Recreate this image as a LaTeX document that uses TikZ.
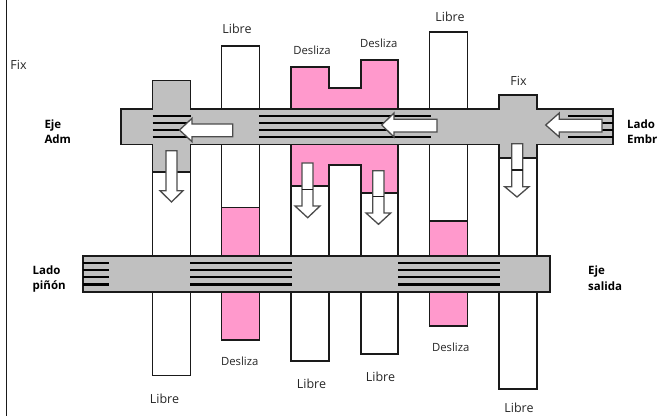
\documentclass[tikz,border=0pt]{standalone}
\usepackage{fontspec}
\setmainfont{Open Sans}
\definecolor{rosa}{HTML}{FF99CC}
\definecolor{gris}{HTML}{C0C0C0}
\definecolor{borde}{HTML}{1A1A1A}
\tikzset{
	pieza/.style={draw=borde, line width=1.3pt},
	estria/.style={draw=black, line width=2.1pt},
	flecha/.style={draw=black!70, line width=1.3pt, fill=white, line join=miter},
	rotulo/.style={font=\fontsize{12.5}{14}\selectfont, inner sep=0pt, text=black!85},
	rotulopeq/.style={font=\fontsize{11.3}{13}\selectfont, inner sep=0pt, text=black!85},
	rotuloeje/.style={font=\fontsize{11.5}{15.5}\selectfont\bfseries, inner sep=0pt, align=left, anchor=west}
}
\begin{document}
\begin{tikzpicture}[x=1pt, y=-1pt]
		\useasboundingbox (0,0) rectangle (659,416);
		% Linea de la izquierda
		\draw[line width=1.3pt, borde] (6.5,0) -- (6.5,416);
		
		% Columnas blancas
		\draw[pieza, fill=white] (152.5,172) rectangle (190.5,375.7);
		\draw[pieza, fill=white] (221.5,46) rectangle (259.5,340);
		\draw[pieza, fill=white] (291,186) rectangle (329,361);
		\draw[pieza, fill=white] (361,193) rectangle (398,354);
		\draw[pieza, fill=white] (429.7,32) rectangle (467.7,326);
		\draw[pieza, fill=white] (499,158) rectangle (537,389);
		
		% Partes rosas
		\draw[pieza, fill=rosa] (221.5,207.5) rectangle (259.5,340);
		\draw[pieza, fill=rosa] (429.7,221) rectangle (467.7,326);
		\draw[pieza, fill=rosa] (291,67) -- (329,67) -- (329,88) -- (361,88) -- (361,60) -- (398,60) -- (398,193) -- (361,193) -- (361,165) -- (329,165) -- (329,186) -- (291,186) -- cycle;
		
		% Eje de arriba con las dos piezas fijas
		\draw[pieza, fill=gris] (121,109) -- (152.5,109) -- (152.5,80.5) -- (190.5,80.5) -- (190.5,109) -- (499,109) -- (499,95) -- (537,95) -- (537,109) -- (613,109) -- (613,144.5) -- (537,144.5) -- (537,158) -- (499,158) -- (499,144.5) -- (190.5,144.5) -- (190.5,172) -- (152.5,172) -- (152.5,144.5) -- (121,144.5) -- cycle;
		
		% Eje de abajo
		\draw[pieza, fill=gris] (83,256) rectangle (550,292);
		
		% Estrias de arriba
		\foreach \y in {115.7,123,130,137.3} {
			\draw[estria] (152.5,\y) -- (191,\y);
			\draw[estria] (259,\y) -- (431,\y);
			\draw[estria] (568,\y) -- (613,\y);
		}
		
		% Estrias de abajo
		\foreach \y in {263.3,270.4,277.3,284.5} {
			\draw[estria] (83,\y) -- (109,\y);
			\draw[estria] (190,\y) -- (292,\y);
			\draw[estria] (398,\y) -- (500,\y);
		}
		
		% Flechas hacia la izquierda
		\draw[flecha] (179.5,130) -- (192,118.3) -- (192,124) -- (232.7,124) -- (232.7,136.7) -- (192,136.7) -- (192,141.7) -- cycle;
		\draw[flecha] (381.7,125) -- (394,113) -- (394,119.3) -- (437,119.3) -- (437,132) -- (394,132) -- (394,137) -- cycle;
		\draw[flecha] (545.7,125) -- (559.3,113) -- (559.3,119.3) -- (602,119.3) -- (602,132) -- (559.3,132) -- (559.3,137) -- cycle;
		
		% Flechas hacia abajo
		\draw[flecha] (166,150.7) -- (177,150.7) -- (177,190.7) -- (183,190.7) -- (171.5,202) -- (160,190.7) -- (166,190.7) -- cycle;
		\draw[flecha] (302,163) -- (313,163) -- (313,206) -- (320,206) -- (307.7,217.7) -- (295,206) -- (302,206) -- cycle;
		\draw[flecha] (372.7,170.7) -- (384,170.7) -- (384,213) -- (390.7,213) -- (378.5,224.3) -- (366,213) -- (372.7,213) -- cycle;
		\draw[flecha] (511.7,143.7) -- (522.7,143.7) -- (522.7,186.7) -- (529,186.7) -- (517,197) -- (504.7,186.7) -- (511.7,186.7) -- cycle;
		
		% Rayitas dentro de las flechas
		\draw[pieza] (302,189.3) -- (313,189.3);
		\draw[pieza] (372.7,196.7) -- (384,196.7);
		\draw[pieza] (511.7,170) -- (522.7,170);
		
		% Rotulos
		\node[rotulo] (fixizq) at (18.5,65) {Fix};
		\node[rotulo] (fixder) at (518.5,80.7) {Fix};
		\node[rotulo] (libreb) at (237,29) {Libre};
		\node[rotulo] (libree) at (450,17) {Libre};
		\node[rotulo] (librea) at (164.5,399) {Libre};
		\node[rotulo] (librec) at (311.5,384) {Libre};
		\node[rotulo] (libred) at (380.5,376.7) {Libre};
		\node[rotulo, anchor=base] (libref) at (519,412.5) {Libre};
		\node[rotulopeq] (deslizac) at (312,50) {Desliza};
		\node[rotulopeq] (deslizad) at (378.7,43) {Desliza};
		\node[rotulopeq] (deslizab) at (239.7,361.7) {Desliza};
		\node[rotulopeq] (deslizae) at (450.7,347.7) {Desliza};
		\node[rotuloeje] (ejeadm) at (44.3,131.5) {Eje\\Adm};
		\node[rotuloeje] (ladoembr) at (627,131.5) {Lado\\Embr};
		\node[rotuloeje] (ladopinon) at (32.5,279) {Lado\\piñón};
		\node[rotuloeje] (ejesalida) at (588,278) {Eje\\salida};
		\end{tikzpicture}
\end{document}
